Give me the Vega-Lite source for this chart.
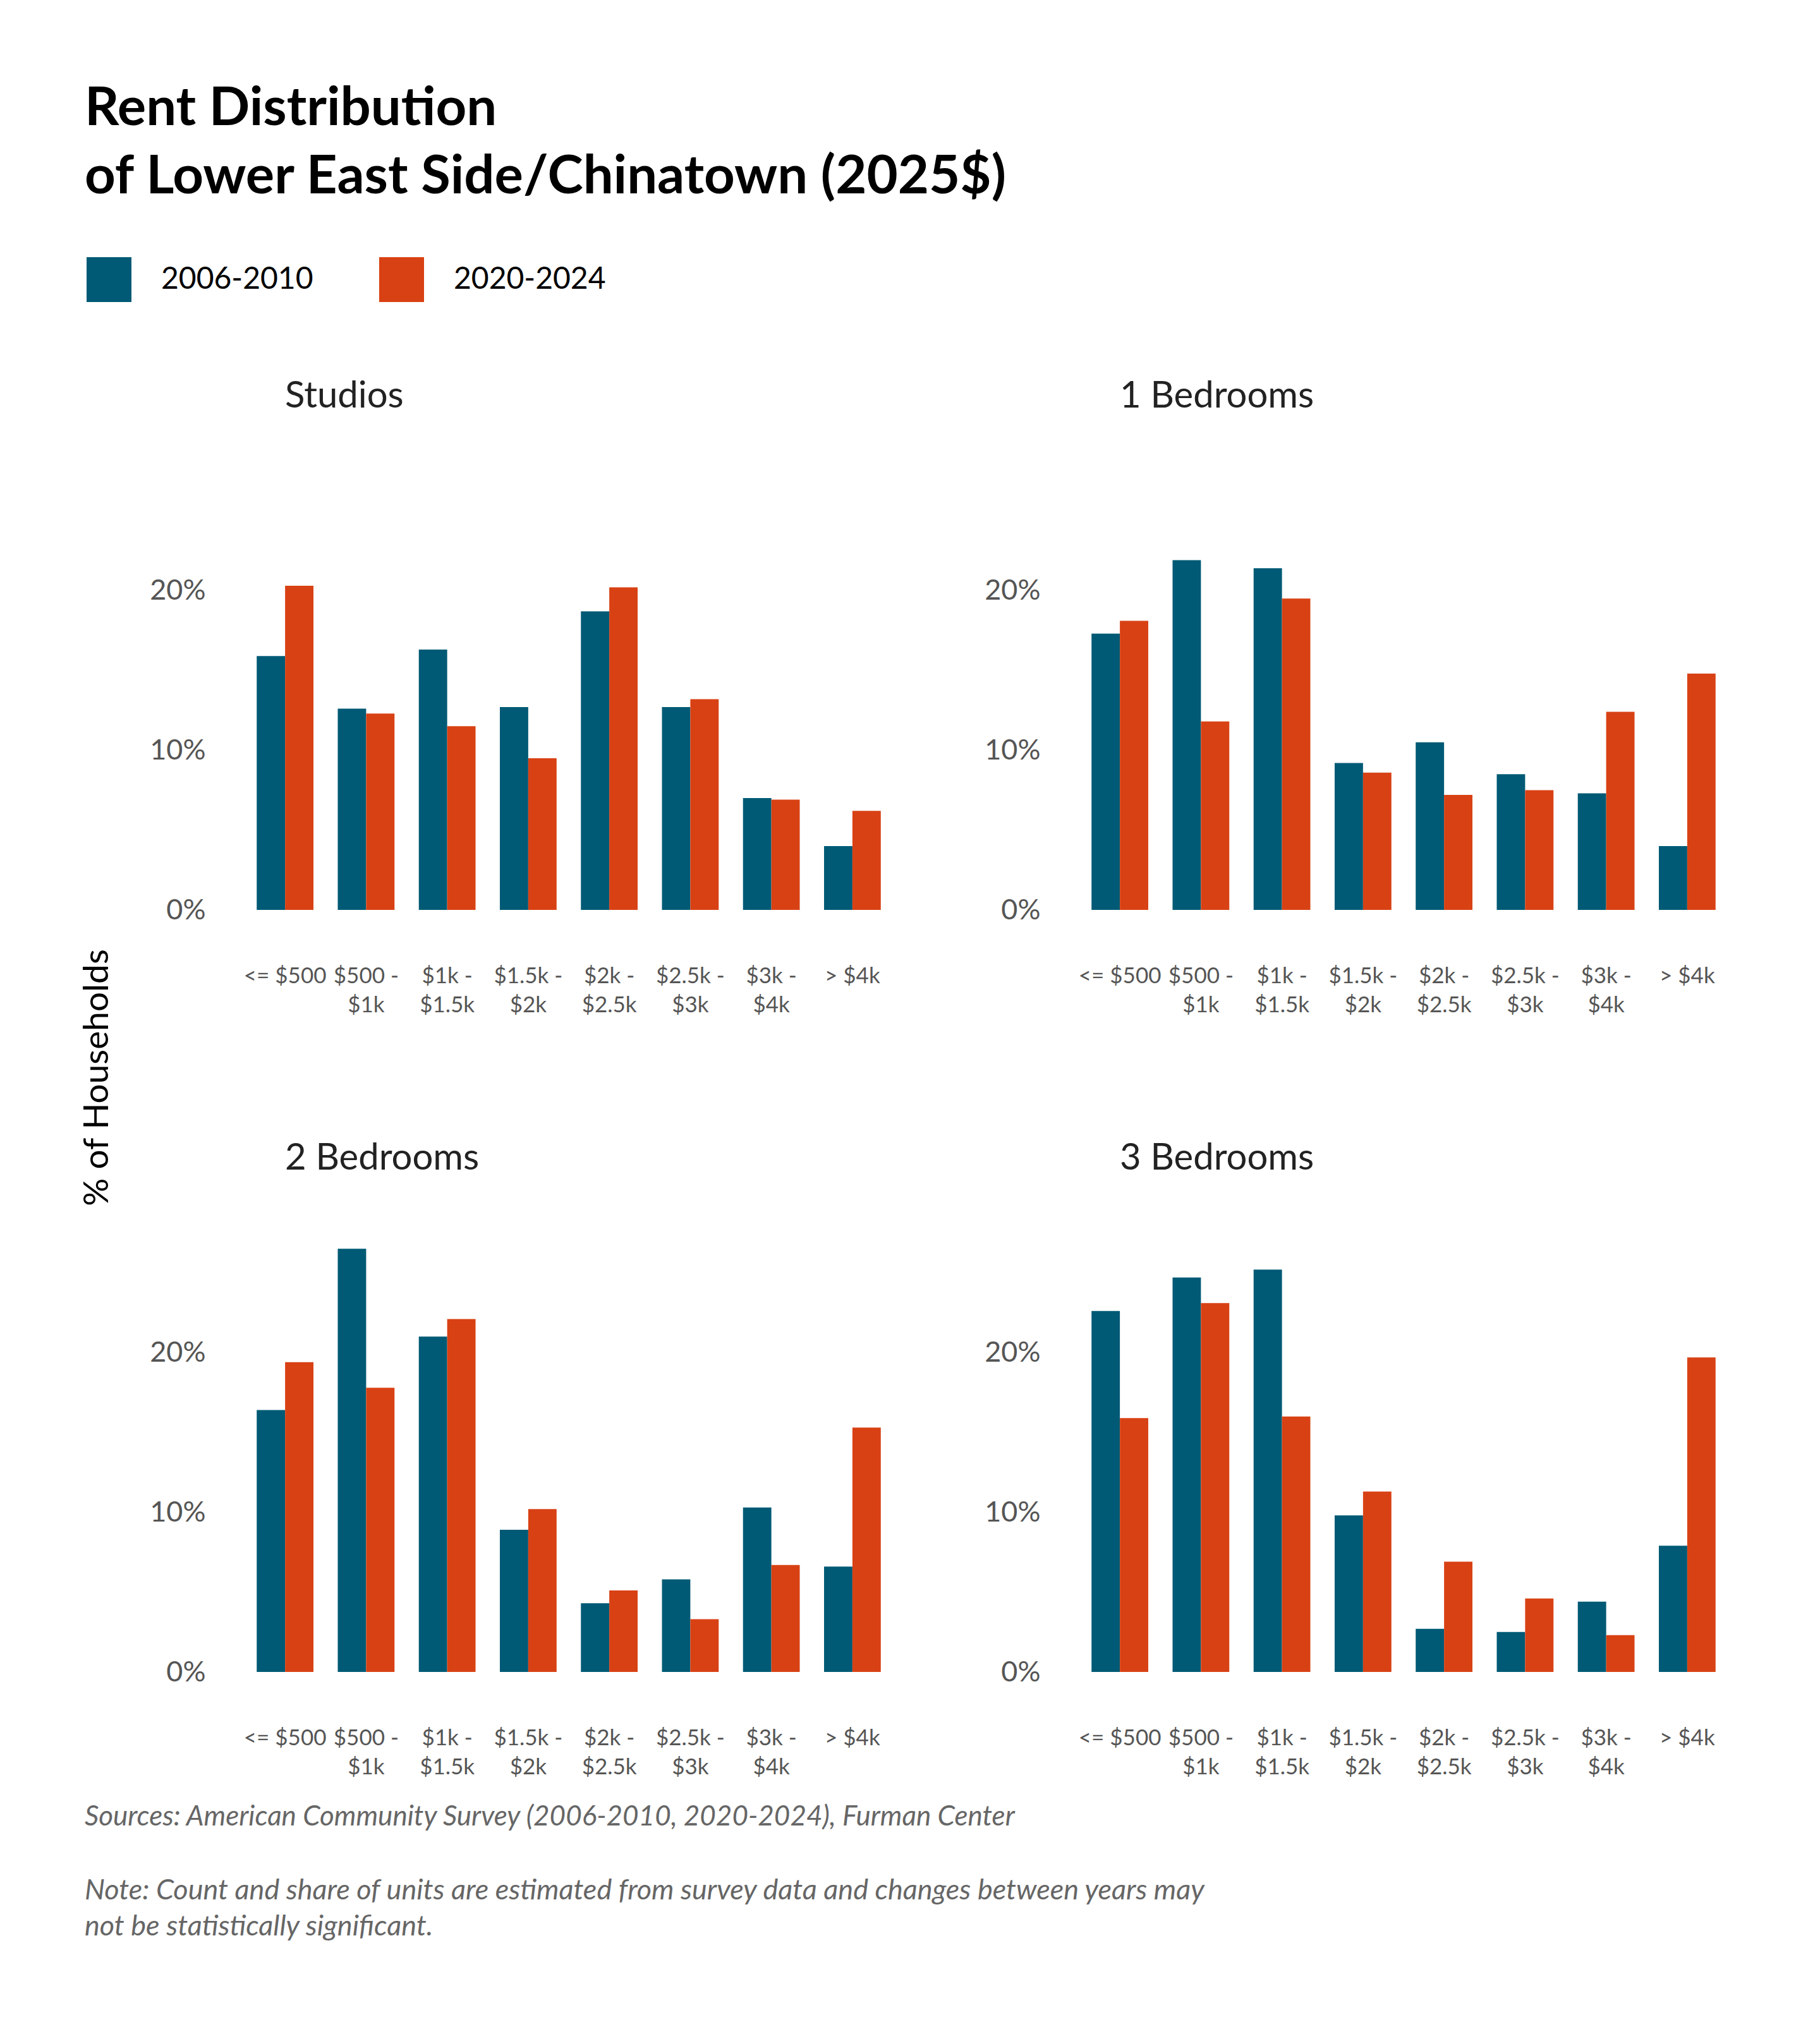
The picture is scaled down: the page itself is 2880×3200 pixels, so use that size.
{
  "$schema": "https://vega.github.io/schema/vega-lite/v6.json",
  "description": "Rent distribution of Lower East Side/Chinatown by unit size, 2006-2010 vs 2020-2024",
  "background": "white",
  "padding": {"left": 126, "top": 130, "right": 120, "bottom": 90},
  "title": {
    "text": ["Rent Distribution", "of Lower East Side/Chinatown (2025$)"],
    "anchor": "start",
    "frame": "bounds",
    "dx": 8,
    "fontSize": 85,
    "fontWeight": "bold",
    "lineHeight": 108,
    "color": "black",
    "offset": 83
  },
  "vconcat": [
    {
      "data": {
        "values": [
          {"type": "Studios", "rent": "<= $500", "period": "2006-2010", "pct": 15.9},
          {"type": "Studios", "rent": "<= $500", "period": "2020-2024", "pct": 20.3},
          {"type": "Studios", "rent": "$500 - $1k", "period": "2006-2010", "pct": 12.6},
          {"type": "Studios", "rent": "$500 - $1k", "period": "2020-2024", "pct": 12.3},
          {"type": "Studios", "rent": "$1k - $1.5k", "period": "2006-2010", "pct": 16.3},
          {"type": "Studios", "rent": "$1k - $1.5k", "period": "2020-2024", "pct": 11.5},
          {"type": "Studios", "rent": "$1.5k - $2k", "period": "2006-2010", "pct": 12.7},
          {"type": "Studios", "rent": "$1.5k - $2k", "period": "2020-2024", "pct": 9.5},
          {"type": "Studios", "rent": "$2k - $2.5k", "period": "2006-2010", "pct": 18.7},
          {"type": "Studios", "rent": "$2k - $2.5k", "period": "2020-2024", "pct": 20.2},
          {"type": "Studios", "rent": "$2.5k - $3k", "period": "2006-2010", "pct": 12.7},
          {"type": "Studios", "rent": "$2.5k - $3k", "period": "2020-2024", "pct": 13.2},
          {"type": "Studios", "rent": "$3k - $4k", "period": "2006-2010", "pct": 7.0},
          {"type": "Studios", "rent": "$3k - $4k", "period": "2020-2024", "pct": 6.9},
          {"type": "Studios", "rent": "> $4k", "period": "2006-2010", "pct": 4.0},
          {"type": "Studios", "rent": "> $4k", "period": "2020-2024", "pct": 6.2},
          {"type": "1 Bedrooms", "rent": "<= $500", "period": "2006-2010", "pct": 17.3},
          {"type": "1 Bedrooms", "rent": "<= $500", "period": "2020-2024", "pct": 18.1},
          {"type": "1 Bedrooms", "rent": "$500 - $1k", "period": "2006-2010", "pct": 21.9},
          {"type": "1 Bedrooms", "rent": "$500 - $1k", "period": "2020-2024", "pct": 11.8},
          {"type": "1 Bedrooms", "rent": "$1k - $1.5k", "period": "2006-2010", "pct": 21.4},
          {"type": "1 Bedrooms", "rent": "$1k - $1.5k", "period": "2020-2024", "pct": 19.5},
          {"type": "1 Bedrooms", "rent": "$1.5k - $2k", "period": "2006-2010", "pct": 9.2},
          {"type": "1 Bedrooms", "rent": "$1.5k - $2k", "period": "2020-2024", "pct": 8.6},
          {"type": "1 Bedrooms", "rent": "$2k - $2.5k", "period": "2006-2010", "pct": 10.5},
          {"type": "1 Bedrooms", "rent": "$2k - $2.5k", "period": "2020-2024", "pct": 7.2},
          {"type": "1 Bedrooms", "rent": "$2.5k - $3k", "period": "2006-2010", "pct": 8.5},
          {"type": "1 Bedrooms", "rent": "$2.5k - $3k", "period": "2020-2024", "pct": 7.5},
          {"type": "1 Bedrooms", "rent": "$3k - $4k", "period": "2006-2010", "pct": 7.3},
          {"type": "1 Bedrooms", "rent": "$3k - $4k", "period": "2020-2024", "pct": 12.4},
          {"type": "1 Bedrooms", "rent": "> $4k", "period": "2006-2010", "pct": 4.0},
          {"type": "1 Bedrooms", "rent": "> $4k", "period": "2020-2024", "pct": 14.8},
          {"type": "2 Bedrooms", "rent": "<= $500", "period": "2006-2010", "pct": 16.4},
          {"type": "2 Bedrooms", "rent": "<= $500", "period": "2020-2024", "pct": 19.4},
          {"type": "2 Bedrooms", "rent": "$500 - $1k", "period": "2006-2010", "pct": 26.5},
          {"type": "2 Bedrooms", "rent": "$500 - $1k", "period": "2020-2024", "pct": 17.8},
          {"type": "2 Bedrooms", "rent": "$1k - $1.5k", "period": "2006-2010", "pct": 21.0},
          {"type": "2 Bedrooms", "rent": "$1k - $1.5k", "period": "2020-2024", "pct": 22.1},
          {"type": "2 Bedrooms", "rent": "$1.5k - $2k", "period": "2006-2010", "pct": 8.9},
          {"type": "2 Bedrooms", "rent": "$1.5k - $2k", "period": "2020-2024", "pct": 10.2},
          {"type": "2 Bedrooms", "rent": "$2k - $2.5k", "period": "2006-2010", "pct": 4.3},
          {"type": "2 Bedrooms", "rent": "$2k - $2.5k", "period": "2020-2024", "pct": 5.1},
          {"type": "2 Bedrooms", "rent": "$2.5k - $3k", "period": "2006-2010", "pct": 5.8},
          {"type": "2 Bedrooms", "rent": "$2.5k - $3k", "period": "2020-2024", "pct": 3.3},
          {"type": "2 Bedrooms", "rent": "$3k - $4k", "period": "2006-2010", "pct": 10.3},
          {"type": "2 Bedrooms", "rent": "$3k - $4k", "period": "2020-2024", "pct": 6.7},
          {"type": "2 Bedrooms", "rent": "> $4k", "period": "2006-2010", "pct": 6.6},
          {"type": "2 Bedrooms", "rent": "> $4k", "period": "2020-2024", "pct": 15.3},
          {"type": "3 Bedrooms", "rent": "<= $500", "period": "2006-2010", "pct": 22.6},
          {"type": "3 Bedrooms", "rent": "<= $500", "period": "2020-2024", "pct": 15.9},
          {"type": "3 Bedrooms", "rent": "$500 - $1k", "period": "2006-2010", "pct": 24.7},
          {"type": "3 Bedrooms", "rent": "$500 - $1k", "period": "2020-2024", "pct": 23.1},
          {"type": "3 Bedrooms", "rent": "$1k - $1.5k", "period": "2006-2010", "pct": 25.2},
          {"type": "3 Bedrooms", "rent": "$1k - $1.5k", "period": "2020-2024", "pct": 16.0},
          {"type": "3 Bedrooms", "rent": "$1.5k - $2k", "period": "2006-2010", "pct": 9.8},
          {"type": "3 Bedrooms", "rent": "$1.5k - $2k", "period": "2020-2024", "pct": 11.3},
          {"type": "3 Bedrooms", "rent": "$2k - $2.5k", "period": "2006-2010", "pct": 2.7},
          {"type": "3 Bedrooms", "rent": "$2k - $2.5k", "period": "2020-2024", "pct": 6.9},
          {"type": "3 Bedrooms", "rent": "$2.5k - $3k", "period": "2006-2010", "pct": 2.5},
          {"type": "3 Bedrooms", "rent": "$2.5k - $3k", "period": "2020-2024", "pct": 4.6},
          {"type": "3 Bedrooms", "rent": "$3k - $4k", "period": "2006-2010", "pct": 4.4},
          {"type": "3 Bedrooms", "rent": "$3k - $4k", "period": "2020-2024", "pct": 2.3},
          {"type": "3 Bedrooms", "rent": "> $4k", "period": "2006-2010", "pct": 7.9},
          {"type": "3 Bedrooms", "rent": "> $4k", "period": "2020-2024", "pct": 19.7}
        ]
      },
      "title": {
        "text": "Sources: American Community Survey (2006-2010, 2020-2024), Furman Center",
        "subtitle": ["Note: Count and share of units are estimated from survey data and changes between years may", "not be statistically significant."],
        "orient": "bottom",
        "anchor": "start",
        "frame": "bounds",
        "dx": 8,
        "offset": 40,
        "fontSize": 44,
        "fontStyle": "italic",
        "fontWeight": "normal",
        "color": "#666666",
        "subtitleFont": "Lato",
        "subtitleFontSize": 45,
        "subtitleFontStyle": "italic",
        "subtitleColor": "#666666",
        "subtitleLineHeight": 57,
        "subtitlePadding": 72
      },
      "columns": 2,
      "bounds": "flush",
      "spacing": {"column": 295, "row": 511},
      "concat": [
        {
          "title": {"text": "Studios"},
          "transform": [{"filter": "datum.type == 'Studios'"}],
          "mark": {"type": "bar"},
          "encoding": {
            "x": {"field": "rent", "type": "nominal", "sort": ["<= $500", "$500 - $1k", "$1k - $1.5k", "$1.5k - $2k", "$2k - $2.5k", "$2.5k - $3k", "$3k - $4k", "> $4k"], "title": null,
                  "scale": {"paddingInner": 0.3, "paddingOuter": 0.15}},
            "xOffset": {"field": "period", "type": "nominal"},
            "y": {"field": "pct", "type": "quantitative", "scale": {"domain": [0, 27.5]},
                  "axis": {"values": [0, 10, 20], "title": "% of Households", "titleX": -205, "titleY": 960}},
            "color": {"field": "period", "type": "nominal", "title": null}
          }
        },
        {
          "title": {"text": "1 Bedrooms"},
          "transform": [{"filter": "datum.type == '1 Bedrooms'"}],
          "mark": {"type": "bar"},
          "encoding": {
            "x": {"field": "rent", "type": "nominal", "sort": ["<= $500", "$500 - $1k", "$1k - $1.5k", "$1.5k - $2k", "$2k - $2.5k", "$2.5k - $3k", "$3k - $4k", "> $4k"], "title": null,
                  "scale": {"paddingInner": 0.3, "paddingOuter": 0.15}},
            "xOffset": {"field": "period", "type": "nominal"},
            "y": {"field": "pct", "type": "quantitative", "scale": {"domain": [0, 27.5]}, "axis": {"values": [0, 10, 20], "title": null}},
            "color": {"field": "period", "type": "nominal", "title": null}
          }
        },
        {
          "title": {"text": "2 Bedrooms"},
          "transform": [{"filter": "datum.type == '2 Bedrooms'"}],
          "mark": {"type": "bar"},
          "encoding": {
            "x": {"field": "rent", "type": "nominal", "sort": ["<= $500", "$500 - $1k", "$1k - $1.5k", "$1.5k - $2k", "$2k - $2.5k", "$2.5k - $3k", "$3k - $4k", "> $4k"], "title": null,
                  "scale": {"paddingInner": 0.3, "paddingOuter": 0.15}},
            "xOffset": {"field": "period", "type": "nominal"},
            "y": {"field": "pct", "type": "quantitative", "scale": {"domain": [0, 27.5]}, "axis": {"values": [0, 10, 20], "title": null}},
            "color": {"field": "period", "type": "nominal", "title": null}
          }
        },
        {
          "title": {"text": "3 Bedrooms"},
          "transform": [{"filter": "datum.type == '3 Bedrooms'"}],
          "mark": {"type": "bar"},
          "encoding": {
            "x": {"field": "rent", "type": "nominal", "sort": ["<= $500", "$500 - $1k", "$1k - $1.5k", "$1.5k - $2k", "$2k - $2.5k", "$2.5k - $3k", "$3k - $4k", "> $4k"], "title": null,
                  "scale": {"paddingInner": 0.3, "paddingOuter": 0.15}},
            "xOffset": {"field": "period", "type": "nominal"},
            "y": {"field": "pct", "type": "quantitative", "scale": {"domain": [0, 27.5]}, "axis": {"values": [0, 10, 20], "title": null}},
            "color": {"field": "period", "type": "nominal", "title": null}
          }
        }
      ],
      "resolve": {"scale": {"x": "independent", "y": "independent", "color": "shared"}}
    }
  ],
  "config": {
    "font": "Lato",
    "view": {"stroke": null, "continuousWidth": 1026, "continuousHeight": 695, "discreteWidth": 1026, "discreteHeight": 695},
    "bar": {"stroke": null},
    "range": {"category": ["#005a75", "#d84114"]},
    "title": {"anchor": "start", "frame": "group", "dx": 64, "fontSize": 58, "fontWeight": "normal", "color": "#222222", "offset": 88},
    "axis": {"domain": false, "ticks": false, "grid": false, "labelFont": "Lato", "labelColor": "#555555", "titleFont": "Lato", "titleColor": "black", "titleFontWeight": "normal", "titleFontSize": 55},
    "axisX": {"labelAngle": 0, "labelFontSize": 35, "labelBaseline": "middle", "labelPadding": 104, "labelLineHeight": 46, "labelExpr": "indexof(datum.value, ' - ') > 0 ? [split(datum.value, ' - ')[0] + ' -', split(datum.value, ' - ')[1]] : datum.value"},
    "axisY": {"labelFontSize": 45, "labelPadding": 62, "labelExpr": "datum.value + '%'"},
    "legend": {"orient": "none", "legendX": -250, "legendY": -338, "direction": "horizontal", "symbolType": "square", "symbolSize": 5041, "symbolStrokeWidth": 0, "symbolOpacity": 1, "labelFontSize": 48, "labelColor": "black", "labelLimit": 400, "labelOffset": 47, "columnPadding": 104}
  }
}
